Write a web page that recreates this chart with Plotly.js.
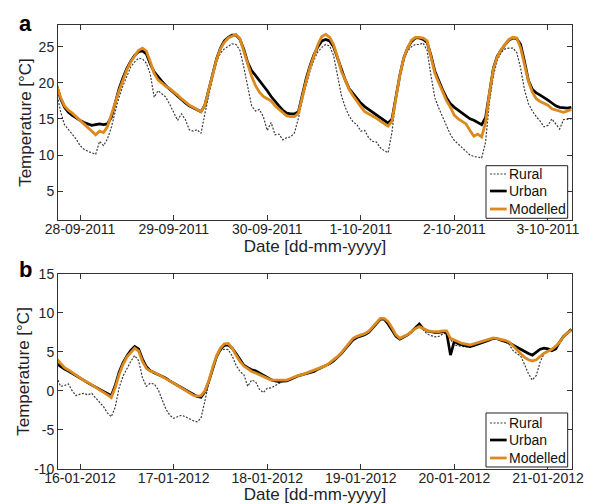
<!DOCTYPE html>
<html>
<head>
<meta charset="utf-8">
<script src="https://cdn.plot.ly/plotly-3.0.1.min.js"></script>
<style>
html,body{margin:0;padding:0;background:#fff;}
#chart{width:590px;height:504px;}
</style>
</head>
<body>
<div id="chart"></div>
<script>
// ---------- DATA (hourly values) ----------
// Panel a: starts 27-09-2011 18:00, hourly
const startA = [2011, 9, 27, 18];
const ruralA = [18.6,16.0,14.2,13.5,12.9,12.2,11.3,
10.8,10.5,10.3,10.1,11.9,11.3,12.2,13.8,16.0,18.0,
19.6,21.0,22.2,22.9,23.4,23.3,22.7,21.2,18.0,18.9,
18.5,18.0,17.0,16.0,14.8,15.7,14.9,13.5,13.3,13.5,
13.0,15.7,18.4,20.8,22.9,24.1,24.7,25.1,25.4,25.3,
24.5,22.1,19.3,16.8,16.1,16.3,15.3,13.4,14.5,12.8,
12.9,12.1,12.4,12.5,13.1,15.1,17.6,19.8,21.7,23.2,
24.3,24.9,25.3,25.1,23.8,21.1,18.3,16.6,15.4,14.6,
14.2,13.3,13.4,12.4,11.9,11.8,11.0,10.6,10.3,13.2,
17.7,21.3,23.4,24.4,25.0,25.3,25.3,25.5,24.5,21.0,
17.9,16.5,15.3,14.0,12.8,12.0,11.5,10.9,10.4,10.0,
9.8,9.7,9.6,11.8,17.4,21.0,23.1,24.2,24.7,24.8,
24.8,24.2,22.0,19.0,17.1,16.1,15.3,14.7,13.9,14.1,
15.0,14.3,13.6,14.9,14.9,15.0];
const urbanA = [19.6,17.8,16.6,15.9,15.5,15.1,14.8,
14.5,14.3,14.1,14.2,14.3,14.2,14.3,15.2,17.4,19.2,
20.7,22.0,23.0,23.8,24.3,24.4,24.0,22.6,21.5,20.8,
20.2,19.6,19.1,18.7,18.2,17.6,17.2,16.8,16.5,16.2,
16.0,16.9,19.0,21.3,23.3,24.8,25.8,26.3,26.6,26.6,
26.0,24.6,22.8,21.7,21.0,20.4,19.7,18.9,18.1,17.4,
16.8,16.2,15.8,15.7,15.7,16.0,18.3,20.6,22.4,23.9,
25.0,25.8,26.0,25.8,25.0,23.4,21.8,20.4,19.2,18.5,
17.8,17.2,16.7,16.3,15.9,15.5,15.1,14.8,14.4,15.0,
18.0,21.0,23.4,24.8,25.7,26.2,26.2,26.0,25.6,23.8,
21.6,20.2,19.0,17.9,17.1,16.6,16.2,15.7,15.3,15.0,
14.8,14.5,14.2,15.2,18.8,22.0,23.7,24.6,25.3,25.9,
26.2,26.1,25.3,22.9,20.3,19.1,18.6,18.3,18.0,17.6,
17.2,16.8,16.6,16.5,16.5,16.6];
const modelledA = [19.6,18.0,16.8,16.2,15.8,15.3,14.8,
14.2,13.7,13.3,12.8,13.3,13.1,13.9,15.4,17.2,18.9,
20.4,21.8,22.9,23.8,24.5,24.8,24.4,22.9,21.3,20.4,
19.9,19.5,19.2,18.8,18.3,17.8,17.3,16.9,16.6,16.3,
16.0,16.9,19.0,21.2,23.2,24.7,25.6,26.2,26.5,26.7,
26.1,24.5,22.6,20.9,19.6,18.7,18.1,17.8,17.5,16.8,
16.3,15.8,15.4,15.3,15.3,15.8,18.1,20.3,22.2,23.8,
25.3,26.4,26.7,26.3,25.3,23.6,21.6,20.4,19.1,18.2,
17.4,16.7,16.0,15.7,15.5,15.1,14.7,14.4,14.0,14.7,
18.0,21.0,23.4,24.8,25.9,26.3,26.3,26.2,25.8,23.7,
21.3,20.0,18.8,17.5,16.6,15.5,15.0,14.7,14.3,13.4,
12.6,12.9,12.5,14.5,18.6,21.9,23.6,24.6,25.3,26.0,
26.3,26.2,24.8,22.3,20.2,18.7,17.8,17.4,17.1,16.9,
16.4,16.2,16.0,15.9,16.1,16.3];

// Panel b: starts 15-01-2012 18:00, hourly
const startB = [2012, 1, 15, 18];
const ruralB = [1.8,0.6,0.7,0.9,0.0,-0.6,-0.4,
-0.3,-0.5,-0.3,-0.9,-1.4,-2.0,-2.8,-3.3,-2.1,0.4,
1.9,2.9,3.8,4.55,3.9,1.7,0.6,1.0,0.9,0.2,
-1.1,-2.3,-3.1,-3.5,-3.3,-3.1,-3.3,-3.6,-3.8,-3.95,
-3.5,-1.3,1.2,3.3,4.5,5.2,5.35,5.3,4.5,3.3,
2.5,2.1,0.6,1.4,1.2,0.2,-0.2,0.35,0.4,0.7,
1.0,1.25,1.4,1.6,1.8,1.95,2.05,2.2,2.4,2.55,
2.8,2.95,3.2,3.5,3.85,4.3,4.8,5.4,6.0,6.6,
6.9,7.05,7.25,7.6,8.1,8.8,9.2,9.2,8.7,7.9,
7.05,6.7,6.9,7.2,7.6,7.9,8.4,7.8,7.3,7.1,
6.95,7.0,7.3,7.4,6.6,5.9,5.8,5.7,5.65,5.6,
5.75,5.95,6.15,6.3,6.5,6.7,6.65,6.5,6.3,6.0,
5.2,4.8,4.5,3.4,2.2,1.4,2.0,3.7,4.8,5.2,
5.35,5.6,6.2,6.9,7.4,7.8];
const urbanB = [3.5,3.1,2.8,2.55,2.25,1.9,1.55,
1.25,1.0,0.75,0.5,0.25,-0.05,-0.35,-0.6,0.7,2.4,
3.6,4.5,5.2,5.7,5.4,4.1,3.1,2.6,2.35,2.15,
1.95,1.65,1.3,1.0,0.7,0.45,0.1,-0.1,-0.4,-0.7,
-0.8,-0.1,1.2,2.9,4.4,5.35,5.85,5.9,5.5,4.8,
4.0,3.3,3.0,2.7,2.6,2.3,2.1,1.8,1.45,1.3,
1.2,1.25,1.3,1.5,1.75,1.95,2.1,2.25,2.4,2.5,
2.8,3.0,3.2,3.5,3.85,4.3,4.8,5.4,6.0,6.55,
6.85,7.0,7.2,7.5,8.1,8.75,9.2,9.2,8.6,7.8,
7.0,6.65,6.9,7.2,7.6,8.1,8.6,8.0,7.7,7.6,
7.5,7.5,7.6,7.5,4.6,6.4,6.05,5.9,5.8,5.7,
5.85,6.0,6.2,6.35,6.55,6.75,6.7,6.5,6.35,6.2,
5.9,5.6,5.4,5.1,4.8,4.6,4.95,5.35,5.5,5.4,
5.15,5.4,6.3,7.0,7.45,7.9];
const modelledB = [4.1,3.5,3.0,2.7,2.35,2.05,1.7,
1.35,1.1,0.8,0.45,0.15,-0.15,-0.5,-0.85,0.4,2.1,
3.4,4.35,5.0,5.5,5.1,3.8,2.9,2.55,2.4,2.15,
1.85,1.6,1.3,1.0,0.7,0.4,0.0,-0.3,-0.55,-0.65,
-0.6,0.0,1.3,3.0,4.5,5.5,6.05,6.1,5.5,4.6,
3.8,3.2,2.8,2.5,2.3,2.05,1.8,1.6,1.4,1.4,
1.4,1.4,1.4,1.6,1.85,2.0,2.1,2.3,2.45,2.65,
2.9,3.0,3.25,3.6,3.95,4.4,4.9,5.5,6.15,6.75,
7.0,7.15,7.35,7.65,8.2,8.85,9.3,9.3,8.9,8.1,
7.2,6.75,6.95,7.25,7.6,8.0,8.25,8.0,7.75,7.65,
7.6,7.6,7.7,7.7,6.75,6.5,6.3,6.1,6.0,5.9,
6.05,6.2,6.3,6.45,6.6,6.8,6.7,6.6,6.5,6.3,
5.8,5.3,4.8,4.3,4.0,3.85,4.0,4.4,4.85,5.1,
5.35,5.75,6.25,6.95,7.45,7.8];

const tickDatesA = ['2011-09-28','2011-09-29','2011-09-30','2011-10-01','2011-10-02','2011-10-03'];
const tickTextA  = ['28-09-2011','29-09-2011','30-09-2011','1-10-2011','2-10-2011','3-10-2011'];
const tickDatesB = ['2012-01-16','2012-01-17','2012-01-18','2012-01-19','2012-01-20','2012-01-21'];
const tickTextB  = ['16-01-2012','17-01-2012','18-01-2012','19-01-2012','20-01-2012','21-01-2012'];
const rangeA = ['2011-09-27 18:20','2011-10-03 06:10'];
const rangeB = ['2012-01-15 18:20','2012-01-21 06:10'];
const yTicksA = [5,10,15,20,25];
const yTicksB = [-10,-5,0,5,10,15];
const seriesNames = ['Rural','Urban','Modelled'];

// ---------- helpers ----------
function hourlyTimes(start, n){
  const out=[];
  for(let i=0;i<n;i++){
    const t=new Date(Date.UTC(start[0],start[1]-1,start[2],start[3]+i));
    out.push(t.toISOString().slice(0,16).replace('T',' '));
  }
  return out;
}
const tA = hourlyTimes(startA, ruralA.length);
const tB = hourlyTimes(startB, ruralB.length);

const FONT = 'Liberation Sans, Arial, Helvetica, sans-serif';
const ORANGE = '#DC8A1E';
const styles = [
  {color:'#3c3c3c', width:1.2, dash:'2px,1.5px'},
  {color:'#000000', width:2.7, dash:'solid'},
  {color:ORANGE, width:2.8, dash:'solid'}
];

function traces(t, arrs, xa, ya){
  return arrs.map((v,i)=>({
    x:t, y:v, type:'scatter', mode:'lines', name:seriesNames[i],
    xaxis:xa, yaxis:ya, showlegend:false,
    line:{color:styles[i].color, width:styles[i].width, dash:styles[i].dash},
    hoverinfo:'skip'
  }));
}

const data = [
  ...traces(tA,[ruralA,urbanA,modelledA],'x','y'),
  ...traces(tB,[ruralB,urbanB,modelledB],'x2','y2')
];

function xax(range, tv, tt, anchor){
  return {
    anchor:anchor, domain:[0,1], type:'date', range:range,
    tickmode:'array', tickvals:tv, ticktext:tt,
    ticks:'inside', ticklen:5, tickwidth:1, tickcolor:'#333',
    showline:true, linecolor:'#333', linewidth:1, mirror:'ticks',
    showgrid:false, zeroline:false, automargin:false,
    ticklabelstandoff:-4,
    tickfont:{family:FONT, size:14, color:'#222'},
    title:{text:'Date [dd-mm-yyyy]', font:{family:FONT, size:17, color:'#222'}, standoff:4}
  };
}
function yax(range, tv, domain, anchor, standoff){
  return {
    anchor:anchor, domain:domain, range:range,
    tickmode:'array', tickvals:tv, ticktext:tv.map(String),
    ticks:'inside', ticklen:5, tickwidth:1, tickcolor:'#333',
    showline:true, linecolor:'#333', linewidth:1, mirror:'ticks',
    showgrid:false, zeroline:false, automargin:false,
    tickfont:{family:FONT, size:14, color:'#222'},
    title:{text:'Temperature [°C]', font:{family:FONT, size:17, color:'#222'}, standoff:standoff}
  };
}

// custom legends (one per panel)
const shapes=[], annotations=[];
[['x','y'],['x2','y2']].forEach(([xa,ya],p)=>{
  const xr = xa+' domain', yr = ya+' domain';
  const box = p===0 ? [0.0087,0.2785] : [0.0103,0.2872];
  shapes.push({type:'rect', xref:xr, yref:yr, x0:0.8327, x1:0.9916, y0:box[0], y1:box[1],
    line:{color:'#222', width:1}, fillcolor:'#fff', layer:'above'});
  const ys=[0.2359,0.1487,0.0564];
  seriesNames.forEach((nm,i)=>{
    shapes.push({type:'line', xref:xr, yref:yr, x0:0.8405, x1:0.8729, y0:ys[i], y1:ys[i],
      line:{color:styles[i].color, width:styles[i].width, dash:styles[i].dash}, layer:'above'});
    annotations.push({xref:xr, yref:yr, x:0.8735, y:ys[i], text:nm, showarrow:false,
      xanchor:'left', yanchor:'middle', font:{family:FONT, size:14, color:'#111'}});
  });
});
annotations.push({xref:'paper', yref:'paper', x:-0.08, y:1.036, text:'<b>a</b>', showarrow:false,
  xanchor:'left', yanchor:'top', font:{family:FONT, size:22, color:'#000'}});
annotations.push({xref:'paper', yref:'paper', x:-0.08, y:0.482, text:'<b>b</b>', showarrow:false,
  xanchor:'left', yanchor:'top', font:{family:FONT, size:22, color:'#000'}});

const layout = {
  width:590, height:504,
  margin:{l:58, r:18, t:25, b:35},
  paper_bgcolor:'#fff', plot_bgcolor:'#fff',
  font:{family:FONT, size:14, color:'#222'},
  showlegend:false,
  xaxis: xax(rangeA, tickDatesA, tickTextA, 'y'),
  yaxis: yax([1,28], yTicksA, [0.5608,1], 'x', 2),
  xaxis2: xax(rangeB, tickDatesB, tickTextB, 'y2'),
  yaxis2: yax([-10,15], yTicksB, [0,0.4392], 'x2', 0),
  shapes:shapes, annotations:annotations
};

Plotly.newPlot('chart', data, layout, {displayModeBar:false, staticPlot:true});
</script>
</body>
</html>
